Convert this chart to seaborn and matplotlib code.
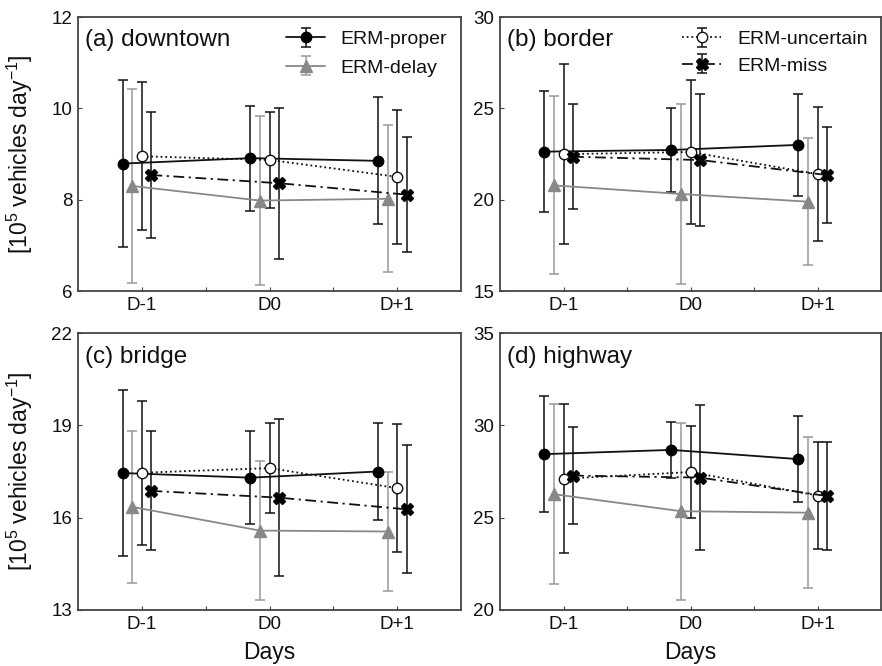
import numpy as np
import pandas as pd
import matplotlib
matplotlib.use("Agg")
import matplotlib.pyplot as plt
import seaborn as sns
from matplotlib.legend_handler import HandlerTuple

days = ["D-1", "D0", "D+1"]
sites = ["downtown", "border", "bridge", "highway"]
panel_tags = ["(a)", "(b)", "(c)", "(d)"]
methods = ["ERM-proper", "ERM-delay", "ERM-uncertain", "ERM-miss"]

# rows: downtown, border, bridge, highway ; columns: D-1, D0, D+1
proper_mean = [[8.79, 8.91, 8.85], [22.63, 22.72, 23.00], [17.45, 17.30, 17.50], [28.44, 28.67, 28.17]]
proper_err = [[1.82, 1.15, 1.39], [3.32, 2.32, 2.78], [2.70, 1.52, 1.57], [3.16, 1.53, 2.33]]
delay_mean = [[8.30, 7.98, 8.02], [20.78, 20.31, 19.89], [16.35, 15.58, 15.55], [26.27, 25.35, 25.27]]
delay_err = [[2.12, 1.85, 1.61], [4.87, 4.95, 3.47], [2.47, 2.26, 1.94], [4.88, 4.80, 4.08]]
uncertain_mean = [[8.95, 8.87, 8.50], [22.49, 22.61, 21.40], [17.46, 17.61, 16.96], [27.11, 27.47, 26.20]]
uncertain_err = [[1.62, 1.05, 1.46], [4.94, 3.92, 3.68], [2.34, 1.45, 2.07], [4.05, 2.49, 2.88]]
miss_mean = [[8.54, 8.36, 8.11], [22.35, 22.17, 21.35], [16.87, 16.65, 16.27], [27.28, 27.17, 26.17]]
miss_err = [[1.37, 1.65, 1.26], [2.86, 3.60, 2.65], [1.93, 2.54, 2.08], [2.65, 3.92, 2.92]]

y_ticks = [[6, 8, 10, 12], [15, 20, 25, 30], [13, 16, 19, 22], [20, 25, 30, 35]]

sns.set_theme(style="ticks")
plt.rcParams["font.family"] = ["Liberation Sans", "DejaVu Sans"]
plt.rcParams["mathtext.fontset"] = "custom"
plt.rcParams["mathtext.rm"] = "Liberation Sans"
plt.rcParams["mathtext.it"] = "Liberation Sans:italic"
plt.rcParams["mathtext.bf"] = "Liberation Sans:bold"
plt.rcParams["text.color"] = "#111111"
plt.rcParams["axes.labelcolor"] = "#111111"
plt.rcParams["xtick.color"] = "#444444"
plt.rcParams["ytick.color"] = "#444444"
plt.rcParams["xtick.labelcolor"] = "#111111"
plt.rcParams["ytick.labelcolor"] = "#111111"

means = [proper_mean, delay_mean, uncertain_mean, miss_mean]
errs = [proper_err, delay_err, uncertain_err, miss_err]
offsets = [-0.15, -0.075, 0.0, 0.075]
styles = [
    dict(color="#111111", ls="-", marker="o", mfc="#000000", mec="#000000", ms=7.5, ecolor="#111111"),
    dict(color="#888888", ls="-", marker="^", mfc="#888888", mec="#888888", ms=9, ecolor="#999999"),
    dict(color="#111111", ls=(0, (1, 1.6)), marker="o", mfc="white", mec="#111111", ms=7.5, ecolor="#111111"),
    dict(color="#111111", ls=(0, (6, 2.5, 1.2, 2.5)), marker="X", mfc="#000000", mec="#000000", ms=8, ecolor="#111111"),
]

fig = plt.figure(figsize=(8.82, 6.66), dpi=100)
W, H = 882, 666
boxes = [(78, 17, 383, 274), (500, 17, 381, 274), (78, 333, 383, 277), (500, 333, 381, 277)]

for k, site in enumerate(sites):
    l, t, w, h = boxes[k]
    ax = fig.add_axes([l / W, 1 - (t + h) / H, w / W, h / H])
    handles = []
    for m in range(4):
        st = styles[m]
        xs = np.arange(len(days)) + offsets[m]
        df = pd.DataFrame({"x": xs, "y": means[m][k], "e": errs[m][k]})
        cont = ax.errorbar(df["x"], df["y"], yerr=df["e"], fmt="none", ecolor=st["ecolor"],
                           elinewidth=1.1, capsize=3.5, capthick=1.1, zorder=2)
        sns.lineplot(data=df, x="x", y="y", ax=ax, sort=False, estimator=None,
                     color=st["color"], linestyle=st["ls"], linewidth=1.3,
                     marker=st["marker"], markersize=st["ms"], markerfacecolor=st["mfc"],
                     markeredgecolor=st["mec"], markeredgewidth=1.0, zorder=3, legend=False)
        line = ax.lines[-1]
        handles.append((cont, line))
    ax.set_xlim(-0.5, 2.5)
    ax.set_ylim(y_ticks[k][0], y_ticks[k][-1])
    ax.set_yticks(y_ticks[k])
    ax.set_xticks(range(len(days)))
    ax.set_xticks([0.5, 1.5], minor=True)
    ax.set_xticklabels(days)
    ax.tick_params(axis="both", which="both", direction="in", length=3, width=0.8,
                   labelsize=13.5, pad=4)
    for sp in ax.spines.values():
        sp.set_visible(True)
        sp.set_color("#444444")
        sp.set_linewidth(1.3)
    ax.set_xlabel("Days" if k >= 2 else "", fontsize=16.5, labelpad=6)
    if k % 2 == 0:
        ax.set_ylabel(r"[10$^{5}$ vehicles day$^{-1}$]", fontsize=16.5, labelpad=12)
    else:
        ax.set_ylabel("")
    ax.text(0.018, 0.915, f"{panel_tags[k]} {site}", transform=ax.transAxes,
            fontsize=17.5, ha="left", va="center")
    hm = {tuple: HandlerTuple(ndivide=1)}
    if k == 0:
        ax.legend([handles[0], handles[1]], methods[0:2], loc="upper right",
                  frameon=False, fontsize=14, handler_map=hm,
                  handlelength=2.0, labelspacing=0.55, borderaxespad=0.3, handletextpad=0.8)
    if k == 1:
        ax.legend([handles[2], handles[3]], methods[2:4], loc="upper right",
                  frameon=False, fontsize=14, handler_map=hm,
                  handlelength=2.0, labelspacing=0.45, borderaxespad=0.3, handletextpad=0.8)

fig.savefig("out.png", dpi=100)
